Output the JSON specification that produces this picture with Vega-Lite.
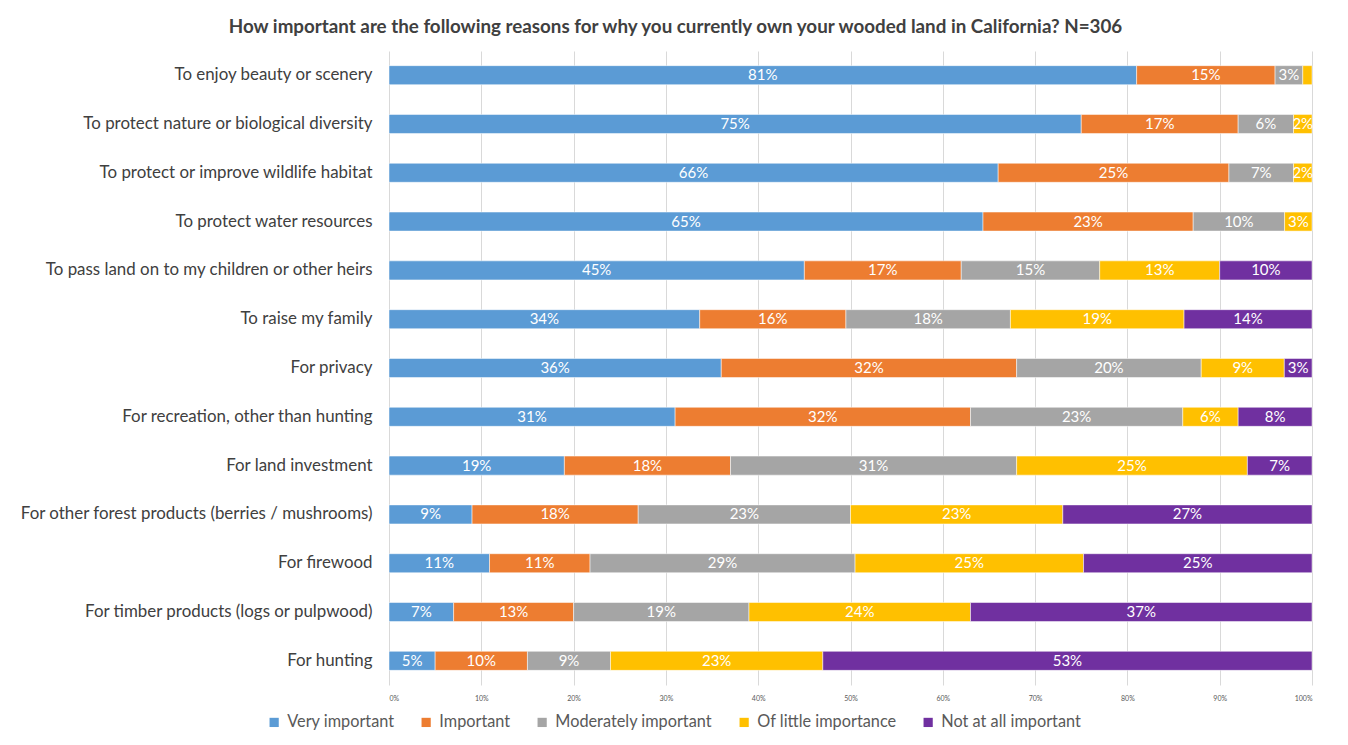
{
  "$schema": "https://vega.github.io/schema/vega-lite/v6.json",
  "width": 923,
  "height": 634,
  "autosize": {"type": "none"},
  "padding": {"left": 389, "top": 51, "right": 36, "bottom": 60},
  "background": "white",
  "title": {
    "text": "How important are the following reasons for why you currently own your wooded land in California? N=306",
    "font": "Lato",
    "fontSize": 18.8,
    "fontWeight": "bold",
    "color": "#404040",
    "anchor": "middle",
    "dx": -175,
    "offset": 14
  },
  "config": {
    "view": {"stroke": null},
    "font": "Lato"
  },
  "data": {
    "values": [
      {"reason": "To enjoy beauty or scenery", "level": "Very important", "order": 1, "value": 81},
      {"reason": "To enjoy beauty or scenery", "level": "Important", "order": 2, "value": 15},
      {"reason": "To enjoy beauty or scenery", "level": "Moderately important", "order": 3, "value": 3},
      {"reason": "To enjoy beauty or scenery", "level": "Of little importance", "order": 4, "value": 1},
      {"reason": "To protect nature or biological diversity", "level": "Very important", "order": 1, "value": 75},
      {"reason": "To protect nature or biological diversity", "level": "Important", "order": 2, "value": 17},
      {"reason": "To protect nature or biological diversity", "level": "Moderately important", "order": 3, "value": 6},
      {"reason": "To protect nature or biological diversity", "level": "Of little importance", "order": 4, "value": 2},
      {"reason": "To protect or improve wildlife habitat", "level": "Very important", "order": 1, "value": 66},
      {"reason": "To protect or improve wildlife habitat", "level": "Important", "order": 2, "value": 25},
      {"reason": "To protect or improve wildlife habitat", "level": "Moderately important", "order": 3, "value": 7},
      {"reason": "To protect or improve wildlife habitat", "level": "Of little importance", "order": 4, "value": 2},
      {"reason": "To protect water resources", "level": "Very important", "order": 1, "value": 65},
      {"reason": "To protect water resources", "level": "Important", "order": 2, "value": 23},
      {"reason": "To protect water resources", "level": "Moderately important", "order": 3, "value": 10},
      {"reason": "To protect water resources", "level": "Of little importance", "order": 4, "value": 3},
      {"reason": "To pass land on to my children or other heirs", "level": "Very important", "order": 1, "value": 45},
      {"reason": "To pass land on to my children or other heirs", "level": "Important", "order": 2, "value": 17},
      {"reason": "To pass land on to my children or other heirs", "level": "Moderately important", "order": 3, "value": 15},
      {"reason": "To pass land on to my children or other heirs", "level": "Of little importance", "order": 4, "value": 13},
      {"reason": "To pass land on to my children or other heirs", "level": "Not at all important", "order": 5, "value": 10},
      {"reason": "To raise my family", "level": "Very important", "order": 1, "value": 34},
      {"reason": "To raise my family", "level": "Important", "order": 2, "value": 16},
      {"reason": "To raise my family", "level": "Moderately important", "order": 3, "value": 18},
      {"reason": "To raise my family", "level": "Of little importance", "order": 4, "value": 19},
      {"reason": "To raise my family", "level": "Not at all important", "order": 5, "value": 14},
      {"reason": "For privacy", "level": "Very important", "order": 1, "value": 36},
      {"reason": "For privacy", "level": "Important", "order": 2, "value": 32},
      {"reason": "For privacy", "level": "Moderately important", "order": 3, "value": 20},
      {"reason": "For privacy", "level": "Of little importance", "order": 4, "value": 9},
      {"reason": "For privacy", "level": "Not at all important", "order": 5, "value": 3},
      {"reason": "For recreation, other than hunting", "level": "Very important", "order": 1, "value": 31},
      {"reason": "For recreation, other than hunting", "level": "Important", "order": 2, "value": 32},
      {"reason": "For recreation, other than hunting", "level": "Moderately important", "order": 3, "value": 23},
      {"reason": "For recreation, other than hunting", "level": "Of little importance", "order": 4, "value": 6},
      {"reason": "For recreation, other than hunting", "level": "Not at all important", "order": 5, "value": 8},
      {"reason": "For land investment", "level": "Very important", "order": 1, "value": 19},
      {"reason": "For land investment", "level": "Important", "order": 2, "value": 18},
      {"reason": "For land investment", "level": "Moderately important", "order": 3, "value": 31},
      {"reason": "For land investment", "level": "Of little importance", "order": 4, "value": 25},
      {"reason": "For land investment", "level": "Not at all important", "order": 5, "value": 7},
      {"reason": "For other forest products (berries / mushrooms)", "level": "Very important", "order": 1, "value": 9},
      {"reason": "For other forest products (berries / mushrooms)", "level": "Important", "order": 2, "value": 18},
      {"reason": "For other forest products (berries / mushrooms)", "level": "Moderately important", "order": 3, "value": 23},
      {"reason": "For other forest products (berries / mushrooms)", "level": "Of little importance", "order": 4, "value": 23},
      {"reason": "For other forest products (berries / mushrooms)", "level": "Not at all important", "order": 5, "value": 27},
      {"reason": "For firewood", "level": "Very important", "order": 1, "value": 11},
      {"reason": "For firewood", "level": "Important", "order": 2, "value": 11},
      {"reason": "For firewood", "level": "Moderately important", "order": 3, "value": 29},
      {"reason": "For firewood", "level": "Of little importance", "order": 4, "value": 25},
      {"reason": "For firewood", "level": "Not at all important", "order": 5, "value": 25},
      {"reason": "For timber products (logs or pulpwood)", "level": "Very important", "order": 1, "value": 7},
      {"reason": "For timber products (logs or pulpwood)", "level": "Important", "order": 2, "value": 13},
      {"reason": "For timber products (logs or pulpwood)", "level": "Moderately important", "order": 3, "value": 19},
      {"reason": "For timber products (logs or pulpwood)", "level": "Of little importance", "order": 4, "value": 24},
      {"reason": "For timber products (logs or pulpwood)", "level": "Not at all important", "order": 5, "value": 37},
      {"reason": "For hunting", "level": "Very important", "order": 1, "value": 5},
      {"reason": "For hunting", "level": "Important", "order": 2, "value": 10},
      {"reason": "For hunting", "level": "Moderately important", "order": 3, "value": 9},
      {"reason": "For hunting", "level": "Of little importance", "order": 4, "value": 23},
      {"reason": "For hunting", "level": "Not at all important", "order": 5, "value": 53}
    ]
  },
  "transform": [
    {"stack": "value", "groupby": ["reason"], "sort": [{"field": "order"}], "offset": "normalize", "as": ["x0", "x1"]},
    {"calculate": "(datum.x0 + datum.x1) / 2", "as": "xm"},
    {"calculate": "datum.value + '%'", "as": "lbl"}
  ],
  "encoding": {
    "y": {
      "field": "reason",
      "type": "nominal",
      "sort": null,
      "scale": {"paddingInner": 0.61, "paddingOuter": 0.3},
      "axis": {
        "title": null,
        "ticks": false,
        "domain": false,
        "labelFont": "Lato",
        "labelFontSize": 16.9,
        "labelColor": "#404040",
        "labelPadding": 17,
        "labelLimit": 400
      }
    }
  },
  "layer": [
    {
      "mark": {"type": "bar", "stroke": "white", "strokeWidth": 0.5},
      "encoding": {
        "x": {
          "field": "x0",
          "type": "quantitative",
          "scale": {"domain": [0, 1], "nice": false},
          "axis": {
            "title": null,
            "format": ".0%",
            "values": [0, 0.1, 0.2, 0.3, 0.4, 0.5, 0.6, 0.7, 0.8, 0.9, 1],
            "orient": "bottom",
            "domain": false,
            "ticks": false,
            "grid": true,
            "gridColor": "#D9D9D9",
            "gridWidth": 1,
            "labelFontSize": 7,
            "labelColor": "#595959",
            "labelPadding": 9
          }
        },
        "x2": {"field": "x1"},
        "color": {
          "field": "level",
          "type": "nominal",
          "scale": {
            "domain": ["Very important", "Important", "Moderately important", "Of little importance", "Not at all important"],
            "range": ["#5B9BD5", "#ED7D31", "#A5A5A5", "#FFC000", "#7030A0"]
          },
          "legend": {
            "title": null,
            "orient": "none",
            "direction": "horizontal",
            "legendX": -123,
            "legendY": 663,
            "symbolType": "square",
            "symbolSize": 85,
            "symbolStrokeWidth": 0,
            "labelFont": "Lato",
            "labelFontSize": 16.3,
            "labelColor": "#595959",
            "labelLimit": 300,
            "columnPadding": 23,
            "symbolOffset": 0,
            "labelOffset": 5
          }
        }
      }
    },
    {
      "transform": [{"filter": "datum.value >= 2"}],
      "mark": {"type": "text", "color": "white", "fontSize": 15, "font": "Lato", "align": "center", "baseline": "middle"},
      "encoding": {
        "x": {"field": "xm", "type": "quantitative"},
        "text": {"field": "lbl"}
      }
    }
  ]
}
